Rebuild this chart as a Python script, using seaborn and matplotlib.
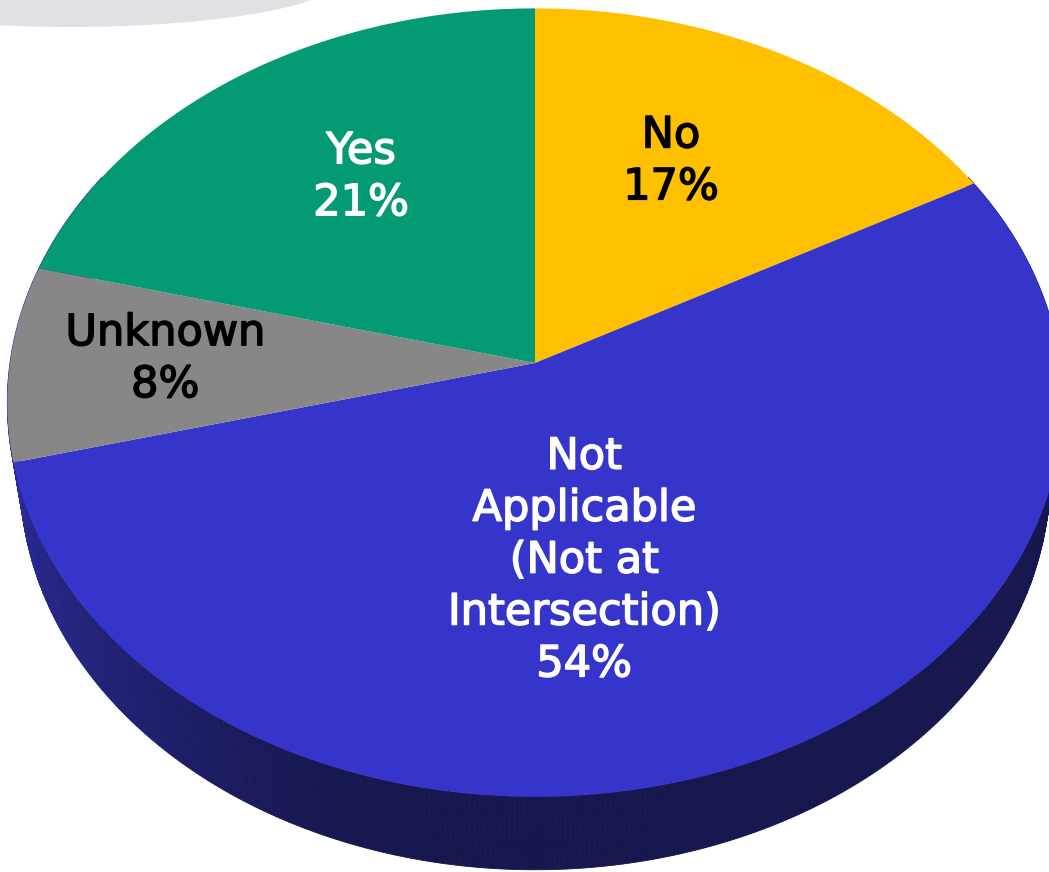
import numpy as np
import matplotlib
matplotlib.use("Agg")
import matplotlib.pyplot as plt
import matplotlib.patheffects as pe
from matplotlib.patches import Ellipse
from matplotlib.colors import to_rgb
import seaborn as sns

# Survey answers, clockwise from twelve o'clock
categories = ["No", "Not\nApplicable\n(Not at\nIntersection)", "Unknown", "Yes"]
shares = [17, 54, 8, 21]

slice_colors = ["#FFC000", "#3535CC", "#878787", "#039A74"]
text_colors = ["black", "white", "black", "white"]
# label anchors in disc coordinates (x right, y toward the back)
label_xy = [(0.273, 0.545), (0.089, -0.482), (-0.705, 0.010), (-0.348, 0.500)]

sns.set_theme(style="white")
plt.rcParams["font.family"] = ["DejaVu Sans"]

W, H, DPI = 1049, 872, 100
fig = plt.figure(figsize=(W / DPI, H / DPI), dpi=DPI)
ax = fig.add_axes([0, 0, 1, 1])
ax.set_xlim(0, W)
ax.set_ylim(H, 0)
ax.axis("off")

# camera for the tilted disc
CX, CY = 535.0, 363.0
ELEV = np.deg2rad(48.0)
DIST = 6.67
FOC = 3502.0
THICK = 0.223
S, C = np.sin(ELEV), np.cos(ELEV)


def project(x, y, z=0.0):
    v = y * S + z * C
    w = DIST + y * C - z * S
    return CX + FOC * x / w, CY - FOC * v / w


def rim(theta, z=0.0):
    return project(np.sin(theta), np.cos(theta), z)


# soft grey band in the upper-left corner
ax.add_patch(Ellipse((70, -22), 540, 98, facecolor="#DFE1E4", edgecolor="none", zorder=0))

# side wall of the disc, shaded from the lit left edge to the darker front/right
side_light = np.array(to_rgb("#2E2EA6"))
side_dark = np.array(to_rgb("#17174F"))
thetas = np.deg2rad(np.linspace(60, 300, 481))
for t0, t1 in zip(thetas[:-1], thetas[1:]):
    deg = np.rad2deg(0.5 * (t0 + t1))
    k = np.clip((deg - 200) / 70.0, 0, 1)
    col = side_dark + (side_light - side_dark) * k
    x0t, y0t = rim(t0)
    x1t, y1t = rim(t1)
    x0b, y0b = rim(t0, -THICK)
    x1b, y1b = rim(t1, -THICK)
    ax.fill([x0t, x1t, x1b, x0b], [y0t, y1t, y1b, y0b], color=col, lw=0.6,
            ec=col, zorder=1)

# top face slices
total = float(sum(shares))
start = 0.0
for share, color in zip(shares, slice_colors):
    span = 360.0 * share / total
    th = np.deg2rad(np.linspace(start, start + span, 200))
    px, py = rim(th)
    ax.fill(np.r_[CX, px], np.r_[CY, py], color=color, lw=0, zorder=2)
    start += span

# slice labels
for cat, share, tc, (lx, ly) in zip(categories, shares, text_colors, label_xy):
    tx, ty = project(lx, ly)
    ax.text(tx, ty, f"{cat}\n{share}%", ha="center", va="center", color=tc,
            fontsize=31, linespacing=1.3, zorder=3,
            path_effects=[pe.withStroke(linewidth=1.1, foreground=tc)])

fig.savefig("out.png", dpi=DPI)
